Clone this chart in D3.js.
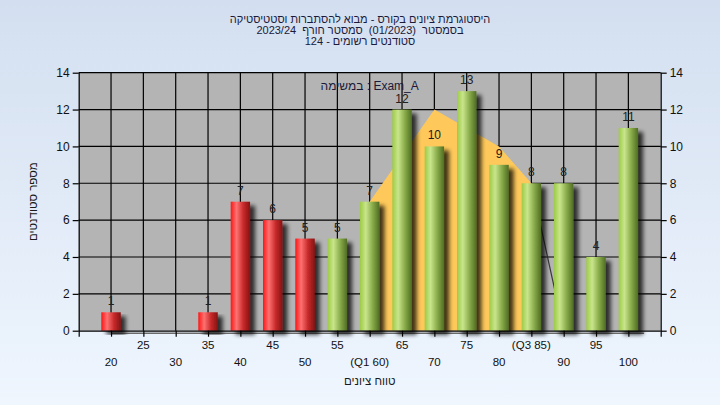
<!DOCTYPE html>
<html><head><meta charset="utf-8">
<script src="https://cdn.jsdelivr.net/npm/d3@7/dist/d3.min.js"></script>
<style>
html,body{margin:0;padding:0;}
svg{display:block;font-family:"Liberation Sans",Arial,sans-serif;}
text{white-space:pre;}
</style></head>
<body>
<svg id="chart" width="720" height="405"></svg>
<script>
// ---- data ----
const categories = [20,25,30,35,40,45,50,55,60,65,70,75,80,85,90,95,100];
const tickLabels = ["20","25","30","35","40","45","50","55","(Q1 60)","65","70","75","80","(Q3 85)","90","95","100"];
const counts = [1,0,0,1,7,6,5,5,7,12,10,13,9,8,8,4,11];
const passThreshold = 55;
const areaX = [60,60,70,80,85,85];
const areaY = [0,7,12,10,8,0];
const lineX = [85,90];
const lineY = [8,0];
const yTicks = [0,2,4,6,8,10,12,14];
const titleLines = ["היסטוגרמת ציונים בקורס - מבוא להסתברות וסטטיסטיקה","בסמסטר\u00a0\u00a0(01/2023)\u00a0\u00a0סמסטר חורף\u00a0\u00a02023/24","סטודנטים רשומים - 124"];
const annotation = "במשימה : Exam_A";
const xTitle = "טווח ציונים";
const yTitle = "מספר סטודנטים";

// ---- layout ----
const W = 720, H = 405;
const L = 78.7, R = 660.7, T = 72.7, B = 330.7;
const svg = d3.select("#chart");
const defs = svg.append("defs");

const bg = defs.append("linearGradient").attr("id","bg").attr("x1",0).attr("y1",0).attr("x2",0).attr("y2",1);
bg.append("stop").attr("offset","0%").attr("stop-color","#d3dff0");
bg.append("stop").attr("offset","100%").attr("stop-color","#eff6fe");

function barGrad(id, c0, c1, c2, c3){
  const g = defs.append("linearGradient").attr("id",id).attr("x1",0).attr("y1",0).attr("x2",1).attr("y2",0);
  g.append("stop").attr("offset","0%").attr("stop-color",c0);
  g.append("stop").attr("offset","30%").attr("stop-color",c1);
  g.append("stop").attr("offset","65%").attr("stop-color",c2);
  g.append("stop").attr("offset","100%").attr("stop-color",c3);
}
barGrad("gRed","#ff1414","#ff7272","#c82a2a","#851313");
barGrad("gGreen","#9ccb45","#c9e58c","#88ab49","#506d24");

const f = defs.append("filter").attr("id","shadow").attr("x","-50%").attr("y","-10%").attr("width","200%").attr("height","130%");
f.append("feGaussianBlur").attr("in","SourceAlpha").attr("stdDeviation",2).attr("result","b");
f.append("feOffset").attr("in","b").attr("dx",5).attr("dy",4).attr("result","o");
f.append("feComponentTransfer").attr("in","o").attr("result","o2")
  .append("feFuncA").attr("type","linear").attr("slope",0.75);
const fm = f.append("feMerge");
fm.append("feMergeNode").attr("in","o2");
fm.append("feMergeNode").attr("in","SourceGraphic");

svg.append("rect").attr("width",W).attr("height",H).attr("fill","url(#bg)");

const x = d3.scalePoint().domain(categories).range([L,R]).padding(1);
const y = d3.scaleLinear().domain([0,14]).range([B,T]);
const step = x.step();
const bw = step*0.6;

// plot background
svg.append("rect").attr("x",L).attr("y",T).attr("width",R-L).attr("height",B-T).attr("fill","#b4b4b4");

// grid
const grid = svg.append("g").attr("stroke","#000").attr("stroke-width",1.2);
grid.selectAll(".h").data(yTicks.filter(d=>d>0)).join("line")
  .attr("x1",L).attr("x2",R).attr("y1",d=>y(d)).attr("y2",d=>y(d));
grid.selectAll(".v").data(categories).join("line")
  .attr("x1",d=>x(d)).attr("x2",d=>x(d)).attr("y1",T).attr("y2",B);

// area
const areaPts = areaX.map((v,i)=>[x(v),y(areaY[i])]);
svg.append("path").attr("d",d3.line()(areaPts)+"Z").attr("fill","#fec95a");

// thin line
svg.append("path").attr("d",d3.line()(lineX.map((v,i)=>[x(v),y(lineY[i])])))
  .attr("stroke","#3a3a3a").attr("stroke-width",1.2).attr("fill","none");

// floor shadow line
svg.append("line").attr("x1",x(20)).attr("x2",x(100)+bw/2+6).attr("y1",B+2.5).attr("y2",B+2.5)
  .attr("stroke","#6a6a6a").attr("stroke-width",1.5);

// bars
const data = categories.map((c,i)=>({c, v:counts[i]}));
svg.append("g").selectAll("rect").data(data.filter(d=>d.v>0)).join("rect")
  .attr("x",d=>x(d.c)-bw/2).attr("width",bw)
  .attr("y",d=>y(d.v)).attr("height",d=>B-y(d.v))
  .attr("fill",d=>d.c<passThreshold?"url(#gRed)":"url(#gGreen)")
  .attr("filter","url(#shadow)");

// value labels
svg.append("g").selectAll("text").data(data.filter(d=>d.v>0)).join("text")
  .attr("x",d=>x(d.c)).attr("y",d=>y(d.v)-7)
  .attr("text-anchor","middle").attr("font-size",12).attr("fill","#202020")
  .text(d=>d.v);

// axes
const axL = svg.append("g").attr("transform",`translate(${L},0)`)
  .call(d3.axisLeft(y).tickValues(yTicks).tickSize(6).tickPadding(3));
const axR = svg.append("g").attr("transform",`translate(${R},0)`)
  .call(d3.axisRight(y).tickValues(yTicks).tickSize(6).tickPadding(3));
const axB = svg.append("g").attr("transform",`translate(0,${B})`)
  .call(d3.axisBottom(x).tickSize(6).tickFormat(()=>""));
[axL,axR,axB].forEach(a=>{
  a.selectAll("path").attr("stroke","#000").attr("stroke-width",1.2);
  a.selectAll("line").attr("stroke","#000").attr("stroke-width",1.2);
  a.selectAll("text").attr("font-size",12).attr("fill","#111").attr("font-family","Liberation Sans, Arial, sans-serif");
});
axB.select("path").attr("d",`M${L},0.5H${R}`);
axL.select("path").attr("d",`M0.5,${B+6}V${T}`);
axR.select("path").attr("d",`M0.5,${B+6}V${T}`);

// bottom tick labels in two rows
svg.append("g").selectAll("text").data(categories).join("text")
  .attr("x",d=>x(d)).attr("y",(d,i)=> i%2===1 ? 349 : 366)
  .attr("text-anchor","middle").attr("font-size",11.5).attr("fill","#111")
  .text((d,i)=>tickLabels[i]);

// titles
svg.append("g").selectAll("text").data(titleLines).join("text")
  .attr("x",360).attr("y",(d,i)=>[22.5,34,45][i])
  .attr("text-anchor","middle").attr("font-size",11).attr("fill","#1a1a3a")
  .text(d=>d);

svg.append("text").attr("x",(L+R)/2).attr("y",90).attr("text-anchor","middle")
  .attr("font-size",12).attr("fill","#1a1a3a").text(annotation);

svg.append("text").attr("x",(L+R)/2).attr("y",385).attr("text-anchor","middle")
  .attr("font-size",11.5).attr("fill","#1a1a1a").text(xTitle);

svg.append("text").attr("transform",`translate(37,${(T+B)/2}) rotate(-90)`).attr("text-anchor","middle")
  .attr("font-size",11.5).attr("fill","#1a1a1a").text(yTitle);
</script>
</body></html>
